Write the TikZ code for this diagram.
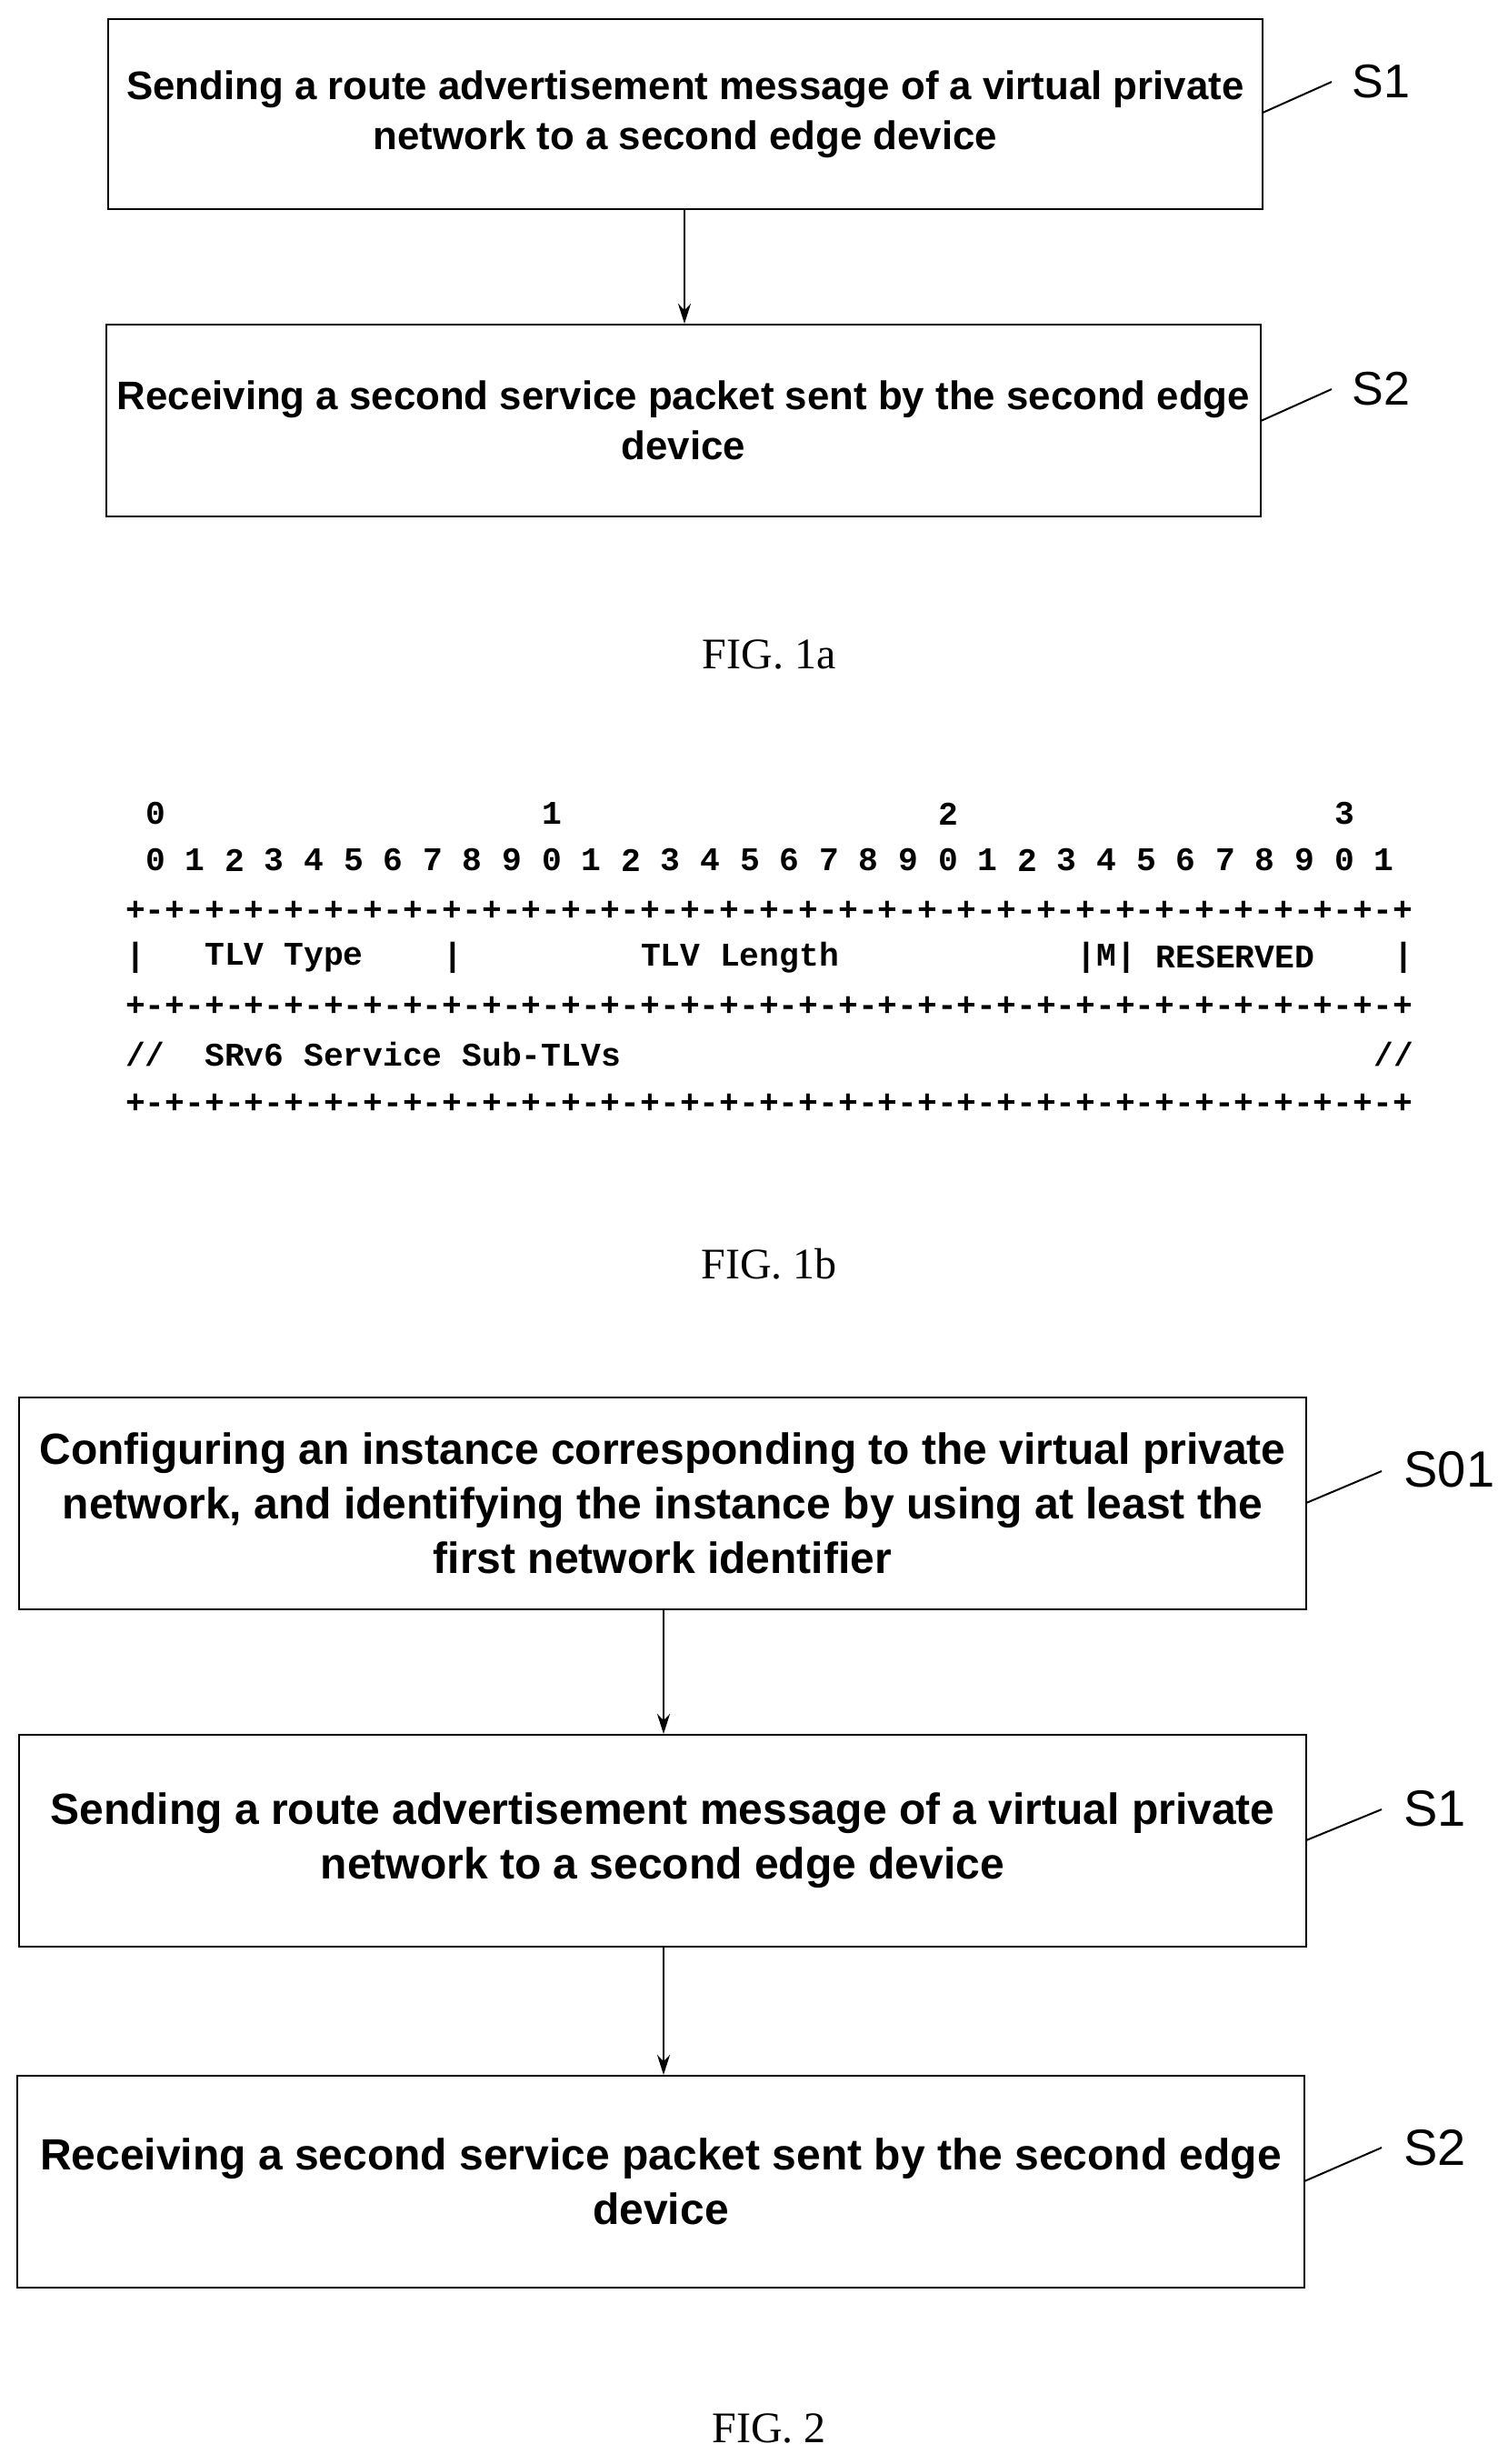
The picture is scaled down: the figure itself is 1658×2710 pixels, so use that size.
\documentclass[tikz,border=0pt]{standalone}
\usepackage{fontspec}
\setmainfont{Liberation Sans}
\newfontfamily\serifF{Liberation Serif}
\newfontfamily\monoF{Liberation Mono}
\usetikzlibrary{arrows.meta}
\begin{document}
\begin{tikzpicture}[x=1pt,y=-1pt,
 box/.style={draw,line width=2pt,inner sep=0pt},
 btxt/.style={align=center,font=\fontsize{43.8}{55}\selectfont\bfseries},
 btxtb/.style={align=center,font=\fontsize{48}{60}\selectfont\bfseries},
 lab/.style={anchor=west,font=\fontsize{52}{60}\selectfont},
 figcap/.style={font=\serifF\fontsize{48}{50}\selectfont},
 mono/.style={anchor=west,inner sep=0pt,font=\monoF\bfseries\fontsize{36.3}{40}\selectfont},
 arr/.style={-{Stealth[length=22pt,width=14pt]},line width=2pt},
 lead/.style={line width=2pt}]
\useasboundingbox (0,0) rectangle (1658,2710);
% FIG 1a
\node[box,minimum width=1270pt,minimum height=209pt] (a1) at (754,125.5) {};
\node[btxt] at (a1) {Sending a route advertisement message of a virtual private\\network to a second edge device};
\node[box,minimum width=1270pt,minimum height=211pt] (a2) at (752,462.5) {};
\node[btxt] at (a2) {Receiving a second service packet sent by the second edge\\device};
\draw[arr] (a1.south -| 753,0) -- (a2.north -| 753,0);
\coordinate (la1) at (1465,90);
\coordinate (la2) at (1465,428);
\draw[lead] (1389,124) -- (la1);
\draw[lead] (1387,463) -- (la2);
\node[lab] (s1a) at (1484,90) {S1};
\node[lab] (s2a) at (1484,428) {S2};
\node[figcap] (f1a) at (846,720) {FIG. 1a};
% FIG 1b
\foreach \n/\c/\t in {h0/1/0,h1/21/1,h2/41/2,h3/61/3}{\node[mono] (\n) at ({138+21.8*\c},895) {\t};}
\foreach \i in {0,...,31}{\pgfmathtruncatemacro{\d}{mod(\i,10)}\node[mono] (b\i) at ({138+21.8*(1+2*\i)},946) {\d};}
\node[mono] (r1) at (138,1002) {+-+-+-+-+-+-+-+-+-+-+-+-+-+-+-+-+-+-+-+-+-+-+-+-+-+-+-+-+-+-+-+-+};
\node[mono] (r2) at (138,1107) {+-+-+-+-+-+-+-+-+-+-+-+-+-+-+-+-+-+-+-+-+-+-+-+-+-+-+-+-+-+-+-+-+};
\node[mono] (r3) at (138,1214) {+-+-+-+-+-+-+-+-+-+-+-+-+-+-+-+-+-+-+-+-+-+-+-+-+-+-+-+-+-+-+-+-+};
\node[mono] (p0) at (138,1053) {|};
\node[mono] (t1) at ({138+21.8*4},1053) {TLV Type};
\node[mono] (p1) at ({138+21.8*16},1053) {|};
\node[mono] (t2) at ({138+21.8*26},1053) {TLV Length};
\node[mono] (t3) at ({138+21.8*48},1053) {|M|};
\node[mono] (t4) at ({138+21.8*52},1053) {RESERVED};
\node[mono] (p2) at ({138+21.8*64},1053) {|};
\node[mono] (u0) at (138,1160) {//};
\node[mono] (u1) at ({138+21.8*4},1160) {SRv6 Service Sub-TLVs};
\node[mono] (u2) at ({138+21.8*63},1160) {//};
\node[figcap] (f1b) at (846,1390) {FIG. 1b};
% FIG 2
\node[box,minimum width=1416pt,minimum height=233pt] (c0) at (729,1653.5) {};
\node[btxtb] at (c0) {Configuring an instance corresponding to the virtual private\\network, and identifying the instance by using at least the\\first network identifier};
\node[box,minimum width=1416pt,minimum height=233pt] (c1) at (729,2024.5) {};
\node[btxtb] at (c1) {Sending a route advertisement message of a virtual private\\network to a second edge device};
\node[box,minimum width=1416pt,minimum height=233pt] (c2) at (727,2399.5) {};
\node[btxtb] at (c2) {Receiving a second service packet sent by the second edge\\device};
\draw[arr] (c0.south -| 730,0) -- (c1.north -| 730,0);
\draw[arr] (c1.south -| 730,0) -- (c2.north -| 730,0);
\coordinate (lc0) at (1520,1618);
\coordinate (lc1) at (1520,1990);
\coordinate (lc2) at (1520,2362);
\draw[lead] (1437,1653) -- (lc0);
\draw[lead] (1437,2024) -- (lc1);
\draw[lead] (1435,2399) -- (lc2);
\node[lab,font=\fontsize{56}{60}\selectfont] (s01) at (1541,1616) {S01};
\node[lab,font=\fontsize{56}{60}\selectfont] (s1c) at (1541,1989) {S1};
\node[lab,font=\fontsize{56}{60}\selectfont] (s2c) at (1541,2362) {S2};
\node[figcap] (f2) at (846,2671) {FIG. 2};
\end{tikzpicture}
\end{document}
